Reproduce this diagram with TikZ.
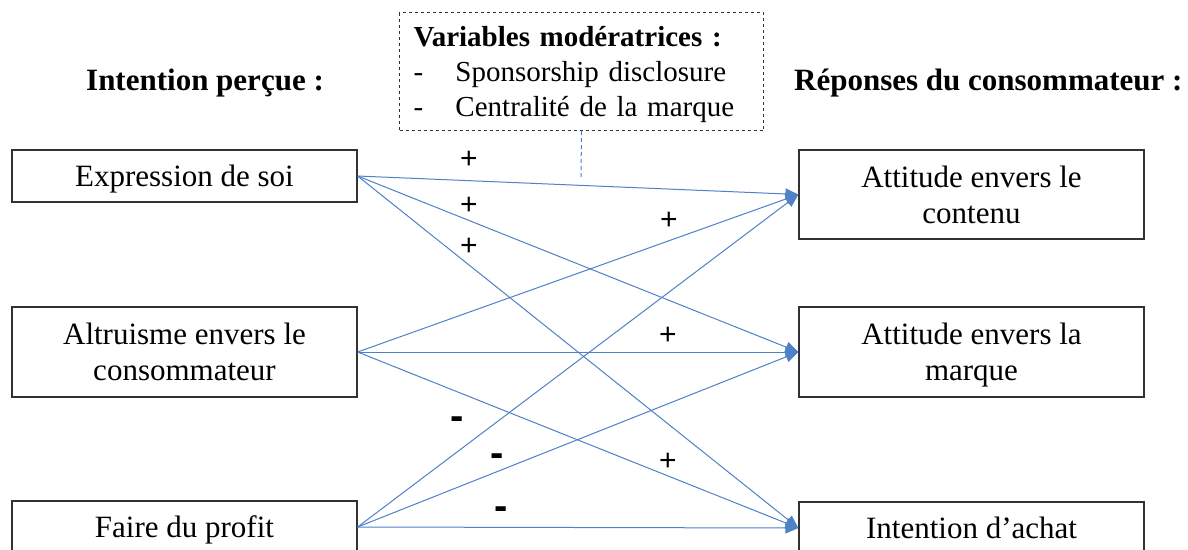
\documentclass[tikz,border=0pt]{standalone}
\usepackage{fontspec}
\setmainfont{Liberation Serif}
\newfontfamily\signfont{Liberation Sans}
\usepackage{tikz}
\usetikzlibrary{arrows.meta}
\definecolor{linkblue}{RGB}{79,129,199}
\definecolor{boxgray}{RGB}{50,50,50}

\begin{document}
\begin{tikzpicture}[x=1pt,y=-1pt,
  varbox/.style={draw=boxgray,line width=1.2pt,minimum width=345pt,inner sep=0pt,
    text depth=0pt,align=center,font=\fontsize{31}{36}\selectfont},
  headtext/.style={inner sep=0pt,anchor=base west,font=\bfseries\fontsize{31}{36}\selectfont},
  modbox/.style={draw=boxgray,line width=1pt,dashed,anchor=north west,minimum height=118pt,
    text width=336pt,inner xsep=14pt,inner ysep=0pt,align=left,
    font=\fontsize{29}{35}\selectfont},
  moddash/.style={draw=linkblue,line width=1pt,dash pattern=on 4pt off 3pt},
  link/.style={draw=linkblue,line width=1pt,-{Triangle[length=13pt,width=11pt]}},
  plussign/.style={inner sep=0pt,font=\signfont\fontsize{30}{32}\selectfont},
  minussign/.style={inner sep=0pt,font=\signfont\bfseries\fontsize{40}{42}\selectfont}]
\path[use as bounding box] (0,0) rectangle (1188,549);
\path[fill=white,draw=none] (0,0) rectangle (1188,549);
% headings
\node[headtext] (perceived) at (86,90) {Intention perçue :};
\node[headtext] (responses) at (794,90) {Réponses du consommateur :};
% moderators
\node[modbox] (moder) at (399,12) {\rule{0pt}{26pt}\textbf{Variables modératrices :}\\
  \makebox[42pt][l]{-}Sponsorship disclosure\\
  \makebox[42pt][l]{-}Centralité de la marque};
\coordinate (modfoot) at (581,177);
\draw[moddash] (moder.south) -- (modfoot);
% perceived intention
\node[varbox,minimum height=52pt] (self) at (184.5,176) {Expression de soi};
\node[varbox,minimum height=90pt] (altru) at (184.5,352) {Altruisme envers le\\consommateur};
\node[varbox,minimum height=52pt] (profit) at (184.5,527) {Faire du profit};
% consumer responses
\node[varbox,minimum height=89pt] (content) at (971.5,194.5) {Attitude envers le\\contenu};
\node[varbox,minimum height=90pt] (brand) at (971.5,352) {Attitude envers la\\marque};
\node[varbox,minimum height=52pt] (purchase) at (971.5,528) {Intention d’achat};
% links
\draw[link] (self.east) -- (content.west);
\draw[link] (self.east) -- (brand.west);
\draw[link] (self.east) -- (purchase.west);
\draw[link] (altru.east) -- (content.west);
\draw[link] (altru.east) -- (brand.west);
\draw[link] (altru.east) -- (purchase.west);
\draw[link] (profit.east) -- (content.west);
\draw[link] (profit.east) -- (brand.west);
\draw[link] (profit.east) -- (purchase.west);
% signs
\node[plussign] (selfcontent) at (469,160) {+};
\node[plussign] (selfbrand) at (469,206) {+};
\node[plussign] (selfpurchase) at (469,247) {+};
\node[plussign] (altrucontent) at (669,221) {+};
\node[plussign] (altrubrand) at (668,336) {+};
\node[plussign] (altrupurchase) at (668,462) {+};
\node[minussign] (profitcontent) at (457,423) {-};
\node[minussign] (profitbrand) at (497,460) {-};
\node[minussign] (profitpurchase) at (501,513) {-};
\end{tikzpicture}
\end{document}
